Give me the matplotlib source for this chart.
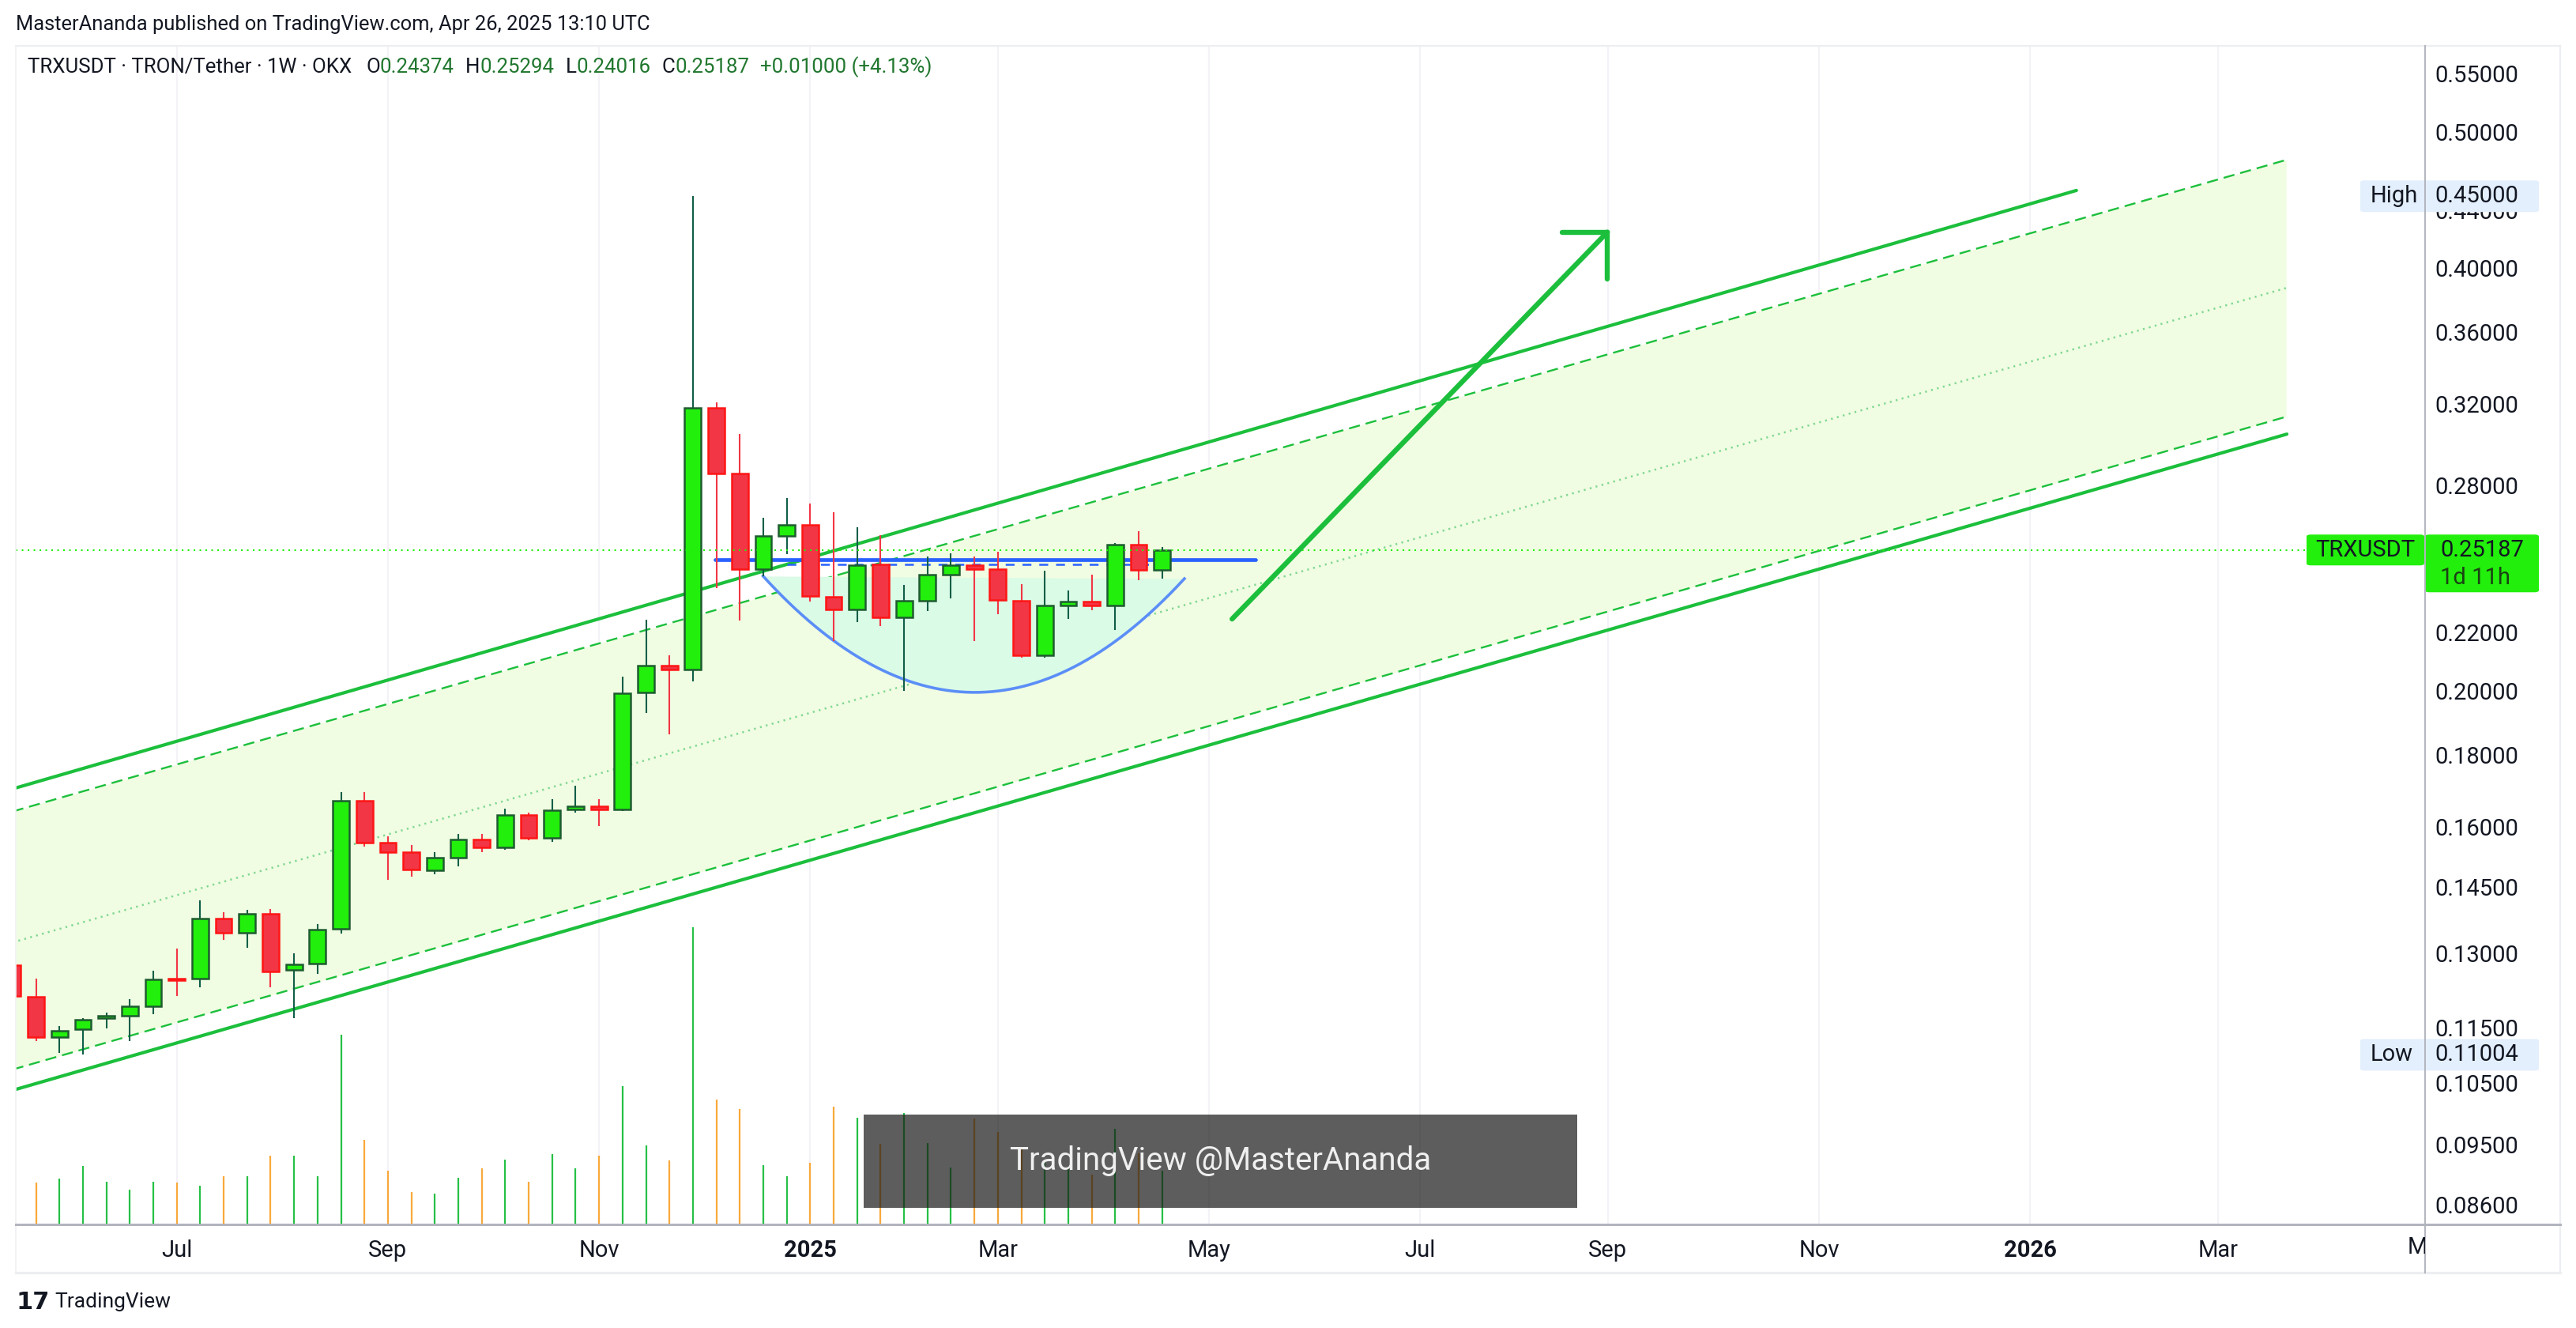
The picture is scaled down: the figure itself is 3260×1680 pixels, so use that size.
import numpy as np
import pandas as pd
import matplotlib
matplotlib.use("Agg")
import matplotlib.pyplot as plt
from matplotlib.patches import Rectangle, FancyBboxPatch
from matplotlib.lines import Line2D
from matplotlib.transforms import Bbox, TransformedBbox

plt.rcParams['font.family'] = ['Roboto', 'DejaVu Sans']

W_PX, H_PX, DPI = 3260, 1680, 200

###############################################################################
# Weekly TRX/USDT candles (OKX), week of 2024-05-13 .. week of 2025-04-21
first_week = pd.Timestamp("2024-05-13")
opens = [0.1274, 0.1210, 0.1132, 0.1147, 0.1168, 0.1173, 0.1191, 0.1247, 0.1246, 0.1376,
         0.1345, 0.1387, 0.1264, 0.1278, 0.1353, 0.1669, 0.1559, 0.1534, 0.1490, 0.1521,
         0.1567, 0.1546, 0.1630, 0.1571, 0.1645, 0.1655, 0.1645, 0.1993, 0.2083, 0.2070,
         0.3179, 0.2855, 0.2441, 0.2577, 0.2624, 0.2333, 0.2285, 0.2459, 0.2254, 0.2318,
         0.2420, 0.2457, 0.2440, 0.2318, 0.2119, 0.2299, 0.2315, 0.2299, 0.2542, 0.24374]
highs = [0.1290, 0.1247, 0.1153, 0.1169, 0.1179, 0.1205, 0.1263, 0.1310, 0.1417, 0.1391,
         0.1395, 0.1397, 0.1299, 0.1364, 0.1694, 0.1694, 0.1574, 0.1553, 0.1534, 0.1580,
         0.1580, 0.1647, 0.1636, 0.1674, 0.1711, 0.1674, 0.2045, 0.2245, 0.2120, 0.4500,
         0.3210, 0.3046, 0.2656, 0.2742, 0.2717, 0.2678, 0.2615, 0.2581, 0.2378, 0.2491,
         0.2505, 0.2493, 0.2511, 0.2380, 0.2434, 0.2357, 0.2419, 0.2547, 0.2597, 0.25294]
lows = [0.1205, 0.1126, 0.1103, 0.11004, 0.1149, 0.1126, 0.1176, 0.1211, 0.1229, 0.1329,
        0.1312, 0.1229, 0.1168, 0.1256, 0.1342, 0.1548, 0.1467, 0.1473, 0.1480, 0.1498,
        0.1534, 0.1541, 0.1564, 0.1561, 0.1636, 0.1601, 0.1642, 0.1928, 0.1862, 0.2031,
        0.2366, 0.2242, 0.2413, 0.2503, 0.2315, 0.2168, 0.2239, 0.2222, 0.2000, 0.2279,
        0.2325, 0.2170, 0.2268, 0.2110, 0.2111, 0.2250, 0.2282, 0.2210, 0.2398, 0.24016]
closes = [0.1212, 0.1132, 0.1145, 0.1166, 0.1173, 0.1191, 0.1245, 0.1244, 0.1376, 0.1345,
          0.1387, 0.1262, 0.1277, 0.1351, 0.1669, 0.1559, 0.1534, 0.1492, 0.1521, 0.1567,
          0.1546, 0.1630, 0.1571, 0.1644, 0.1655, 0.1645, 0.1991, 0.2083, 0.2069, 0.3179,
          0.2857, 0.2440, 0.2576, 0.2623, 0.2335, 0.2285, 0.2456, 0.2254, 0.2318, 0.2419,
          0.2457, 0.2440, 0.2321, 0.2119, 0.2298, 0.2315, 0.2299, 0.2542, 0.2439, 0.25187]
# relative volume (arbitrary units)
volume = [45, 52.9, 57.5, 73.7, 53.7, 44.4, 54.4, 52.9, 48.6, 61.4,
          60.6, 86.9, 86.9, 61.4, 240.2, 107, 67.6, 40.9, 39.4, 58.7,
          70.7, 81.9, 54.4, 88.8, 70.7, 86.9, 174.5, 100, 80.7, 375.3,
          158.3, 146.3, 74.5, 61.4, 78, 149, 134.8, 101.4, 140.9, 102.4,
          72, 133.8, 116.9, 94.6, 79.4, 69.9, 62.8, 120.6, 89.5, 67.6]

last_price = 0.25187
change_abs = 0.01000
change_pct = 4.13
high_mark = 0.45000
low_mark = 0.11004

month_dates = ["2024-07-01", "2024-09-01", "2024-11-01", "2025-01-01", "2025-03-01",
               "2025-05-01", "2025-07-01", "2025-09-01", "2025-11-01", "2026-01-01",
               "2026-03-01", "2026-05-01"]
month_labels = ["Jul", "Sep", "Nov", "2025", "Mar", "May", "Jul", "Sep", "Nov", "2026",
                "Mar", "May"]

price_ticks = [0.086, 0.095, 0.105, 0.115, 0.13, 0.145, 0.16, 0.18, 0.20, 0.22,
               0.28, 0.32, 0.36, 0.40, 0.44, 0.50, 0.55]

# drawings, as (week index, price)
chan_upper_solid = [(0.0, 0.1702), (87.97, 0.4543)]
chan_upper_dash = [(0.0, 0.1640), (96.91, 0.4776)]
chan_mid = [(0.0, 0.1323), (96.91, 0.3871)]
chan_lower_dash = [(0.0, 0.1074), (96.91, 0.3134)]
chan_lower_solid = [(0.0, 0.1038), (96.94, 0.3046)]
cup_pts = [(31.99, 0.2413), (40.98, 0.1994), (49.95, 0.2403)]
resist_solid = [(29.96, 0.2480), (53.0, 0.2480)]
resist_dash = [(33.0, 0.2461), (48.6, 0.2461)]
arrow_shaft = [(51.98, 0.2249), (67.98, 0.4243)]
arrow_head = [(66.05, 0.4243), (67.98, 0.4243), (67.98, 0.3929)]

###############################################################################
UP_BODY, UP_EDGE, UP_WICK = '#22ef0b', '#1e5c30', '#0f5e48'
DN_BODY, DN_EDGE, DN_WICK = '#f23645', '#ff1515', '#f23645'
CH_GREEN = '#1cbf3c'
DARK = '#131722'

fig = plt.figure(figsize=(W_PX / DPI, H_PX / DPI), dpi=DPI)
fig.patch.set_facecolor('white')

left_px, right_px, top_px, bot_px = 20, 3069, 58, 1549
ax = fig.add_axes([left_px / W_PX, 1 - bot_px / H_PX,
                   (right_px - left_px) / W_PX, (bot_px - top_px) / H_PX])
ax.set_yscale('log')
ax.set_xlim(0.14, 102.83)
ax.set_ylim(0.0833, 0.5759)
for s in ax.spines.values():
    s.set_visible(False)

x = np.arange(len(opens))
o, h, l, c = (np.array(a) for a in (opens, highs, lows, closes))
up = c >= o

# month ticks -> week index of first bar in the month
tick_pos = [int(np.ceil((pd.Timestamp(d) - first_week).days / 7)) for d in month_dates]
vis = [p <= 102.83 for p in tick_pos]
ax.set_xticks([p for p, v in zip(tick_pos, vis) if v])
ax.set_xticklabels([t for t, v in zip(month_labels, vis) if v])
for lab in ax.get_xticklabels():
    if lab.get_text().isdigit():
        lab.set_fontweight('bold')
ax.tick_params(axis='x', length=0, pad=7, labelsize=10.5, labelcolor=DARK)
ax.grid(axis='x', color='#f4f2f7', lw=0.8)
ax.set_axisbelow(True)

ax.yaxis.tick_right()
ax.set_yticks(price_ticks)
ax.yaxis.set_minor_locator(matplotlib.ticker.NullLocator())
ax.set_yticklabels([f"{v:.5f}" for v in price_ticks])
ax.tick_params(axis='y', length=0, pad=(3081 - right_px) / DPI * 72, labelsize=10.5,
               labelcolor=DARK)


def seg(ax, pts, **kw):
    xs, ys = zip(*pts)
    ax.plot(xs, ys, **kw)


# channel fill + lines
(x0, ud0), (x1, ud1) = chan_upper_dash
(_, ld0), (_, ld1) = chan_lower_dash
ax.fill_between([x0, x1], [ld0, ld1], [ud0, ud1], color='#f0fde2', lw=0, zorder=1)
seg(ax, chan_upper_solid, color=CH_GREEN, lw=1.5, solid_capstyle='round', zorder=2)
seg(ax, chan_lower_solid, color=CH_GREEN, lw=1.5, solid_capstyle='round', zorder=2)
seg(ax, chan_upper_dash, color=CH_GREEN, lw=0.85, dashes=(6, 3.2), zorder=2)
seg(ax, chan_lower_dash, color=CH_GREEN, lw=0.85, dashes=(6, 3.2), zorder=2)
seg(ax, chan_mid, color='#80d793', lw=0.9, dashes=(0.9, 2.2), zorder=2)

# cup arc
cx, cp = zip(*cup_pts)
coef = np.polyfit(cx, np.log(cp), 2)
xs = np.linspace(cx[0], cx[-1], 200)
arc = np.exp(np.polyval(coef, xs))
chord = np.exp(np.interp(xs, [cx[0], cx[-1]], np.log([cp[0], cp[-1]])))
ax.fill_between(xs, arc, chord, color='#dafbe6', lw=0, zorder=2.2)
ax.plot(xs, arc, color='#5b8ef7', lw=1.3, zorder=3)

# volume, drawn in the lower part of the pane
vol = np.array(volume)
vol_frac = vol / vol.max() * 0.252
ax.vlines(x, 0, vol_frac, transform=ax.get_xaxis_transform(),
          colors=np.where(up, '#26c046', '#f9a93a'), lw=0.8, zorder=2)

# resistance lines
seg(ax, resist_dash, color='#2962ff', lw=0.9, dashes=(4.5, 4), zorder=3)
seg(ax, resist_solid, color='#2962ff', lw=1.7, solid_capstyle='round', zorder=3.5)

# candles
lo_b, hi_b = np.minimum(o, c), np.maximum(o, c)
ax.vlines(x[up], l[up], h[up], color=UP_WICK, lw=0.75, zorder=4)
ax.vlines(x[~up], l[~up], h[~up], color=DN_WICK, lw=0.75, zorder=4)
ax.bar(x[up], hi_b[up] - lo_b[up], bottom=lo_b[up], width=0.7, color=UP_BODY,
       edgecolor=UP_EDGE, linewidth=0.9, zorder=5)
ax.bar(x[~up], hi_b[~up] - lo_b[~up], bottom=lo_b[~up], width=0.7, color=DN_BODY,
       edgecolor=DN_EDGE, linewidth=0.9, zorder=5)

# last price line
ax.axhline(last_price, color='#22ee0a', lw=0.75, dashes=(1, 2.6), zorder=6)

# arrow
seg(ax, arrow_shaft, color=CH_GREEN, lw=2.3, solid_capstyle='round', zorder=7)
seg(ax, arrow_head, color=CH_GREEN, lw=2.3, solid_capstyle='round',
    solid_joinstyle='round', zorder=7)

###############################################################################
# frame / separators
def hline_px(y, x0, x1, color, lw):
    fig.add_artist(Line2D([x0 / W_PX, x1 / W_PX], [1 - y / H_PX] * 2, color=color, lw=lw))


def vline_px(xp, y0, y1, color, lw):
    fig.add_artist(Line2D([xp / W_PX] * 2, [1 - y0 / H_PX, 1 - y1 / H_PX], color=color, lw=lw))


hline_px(top_px, left_px, 3240, '#eceef2', 0.8)
hline_px(1610, left_px, 3240, '#eceef2', 1.2)
vline_px(left_px, top_px, 1610, '#f0f1f4', 0.6)
vline_px(3240, top_px, 1610, '#eceef2', 0.8)
hline_px(bot_px, left_px, 3240, '#b2b5be', 1.1)
vline_px(right_px, top_px, 1610, '#b2b5be', 0.7)

# partial "May" label clipped by the price scale
t = fig.text((tick_pos[-1] - ax.get_xlim()[0]) / (ax.get_xlim()[1] - ax.get_xlim()[0])
             * (right_px - left_px) / W_PX + left_px / W_PX, 1 - 1578 / H_PX,
             month_labels[-1], ha='center', va='center', fontsize=10.5, color=DARK)
t.set_clip_box(TransformedBbox(Bbox([[0, 0], [right_px / W_PX, 1]]), fig.transFigure))
t.set_clip_on(True)


def price_y(p):
    """figure-pixel row (from top) of a price."""
    return H_PX - ax.transData.transform((1, p))[1]


def box_px(x0, y0, x1, y1, color, rad=5):
    fig.add_artist(FancyBboxPatch((x0 / W_PX, 1 - y1 / H_PX), (x1 - x0) / W_PX,
                                  (y1 - y0) / H_PX,
                                  boxstyle=f"round,pad=0,rounding_size={rad / W_PX}",
                                  transform=fig.transFigure, fc=color, ec='none'))


def text_px(xp, yp, s, **kw):
    kw.setdefault('fontsize', 10.5)
    kw.setdefault('color', DARK)
    kw.setdefault('va', 'center')
    return fig.text(xp / W_PX, 1 - yp / H_PX, s, **kw)


# High / Low / last price labels
for lab, val in (("High", high_mark), ("Low", low_mark)):
    yc = price_y(val)
    box_px(2987, yc - 20, 3213, yc + 20, '#e3effd')
    text_px(3000, yc, lab)
    text_px(3081, yc, f"{val:.5f}")

yc = price_y(last_price)
box_px(2919, yc - 19.5, 3068, yc + 19.5, '#22ef0b')
box_px(3069, yc - 19.5, 3213, yc + 53.5, '#22ef0b')
text_px(2993, yc, "TRXUSDT", ha='center')
text_px(3088, yc, f"{last_price:.5f}")
text_px(3088, yc + 35, "1d 11h", color='#1b4214')

# watermark
fig.add_artist(Rectangle((1093 / W_PX, 1 - 1528 / H_PX), (1996 - 1093) / W_PX,
                         (1528 - 1410) / H_PX, transform=fig.transFigure,
                         fc='#181818', alpha=0.7, ec='none'))
text_px(1545, 1469, "TradingView @MasterAnanda", ha='center', fontsize=14.5,
        color='#efefef')

# header
text_px(20, 31, "MasterAnanda published on TradingView.com, Apr 26, 2025 13:10 UTC",
        fontsize=9.2)

renderer = fig.canvas.get_renderer()
GREEN_TXT = '#21772f'
pieces = [("TRXUSDT · TRON/Tether · 1W · OKX", DARK, 18),
          ("O", DARK, 0), (f"{opens[-1]:.5f}", GREEN_TXT, 14),
          ("H", DARK, 0), (f"{highs[-1]:.5f}", GREEN_TXT, 14),
          ("L", DARK, 0), (f"{lows[-1]:.5f}", GREEN_TXT, 14),
          ("C", DARK, 0), (f"{closes[-1]:.5f}", GREEN_TXT, 14),
          (f"+{change_abs:.5f} (+{change_pct:.2f}%)", GREEN_TXT, 0)]
xp = 35
for s, col, gap in pieces:
    tt = text_px(xp, 85, s, fontsize=9.3, color=col)
    xp += tt.get_window_extent(renderer=renderer).width + gap

# footer logo
text_px(21, 1647, "17", fontsize=11, fontweight='bold', family='DejaVu Sans')
text_px(69, 1647, "TradingView", fontsize=9.5)

fig.savefig("out.png", dpi=DPI)
